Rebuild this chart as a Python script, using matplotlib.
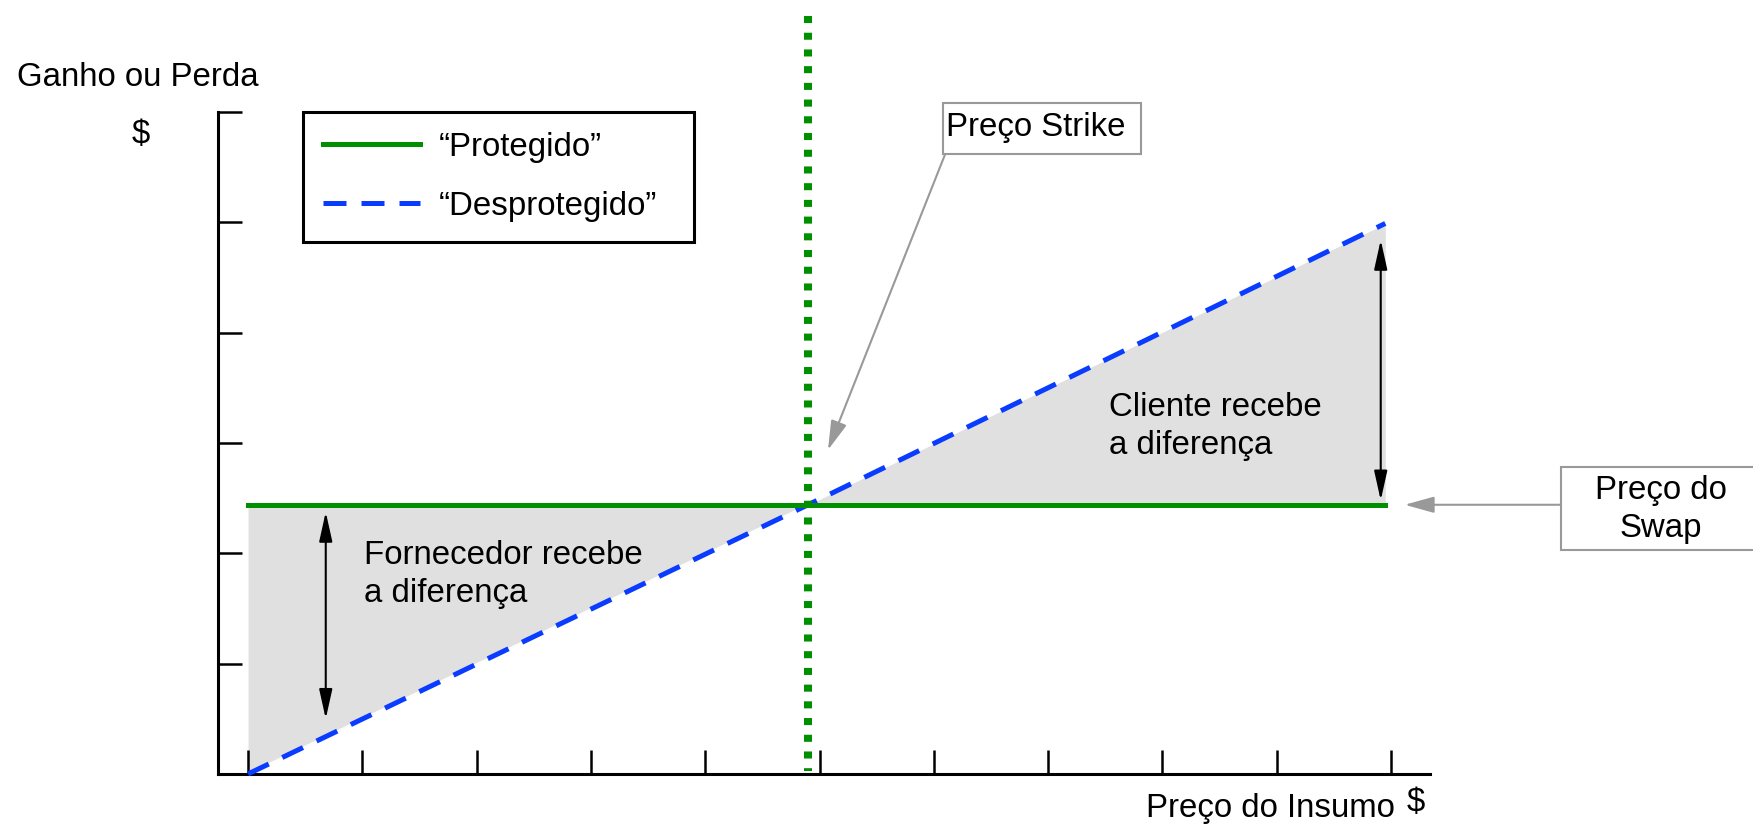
import matplotlib
matplotlib.use('Agg')
import matplotlib.pyplot as plt
from matplotlib.patches import Rectangle, ArrowStyle

plt.rcParams['font.family'] = ['Liberation Sans', 'DejaVu Sans']

# payoff data (input price vs gain/loss)
preco_insumo = [0.0, 4.9, 9.95]
protegido = [2.44, 2.44, 2.44]
desprotegido = [0.0, 2.44, 4.99]
preco_strike = 4.9
strike_topo = 6.87
x_ticks = [0, 1, 2, 3, 4, 5, 6, 7, 8, 9, 10]
y_ticks = [0, 1, 2, 3, 4, 5, 6]

verde = '#008f00'
azul = '#0a3cff'
cinza = '#999999'
fs = 23.8

fig = plt.figure(figsize=(17.53, 8.34), dpi=100)
ax = fig.add_axes([0, 0, 1, 1])
ax.set_xlim(-2.170, 13.167)
ax.set_ylim(-0.544, 7.015)
ax.patch.set_visible(False)

# axes as a bracket: left + bottom spine only
for s in ['top', 'right']:
    ax.spines[s].set_visible(False)
ax.spines['left'].set_position(('data', -0.262))
ax.spines['left'].set_bounds(0, 6)
ax.spines['bottom'].set_position(('data', 0))
ax.spines['bottom'].set_bounds(-0.262, 10.34)
for s in ['left', 'bottom']:
    ax.spines[s].set_linewidth(2.2)
ax.set_xticks(x_ticks)
ax.set_yticks(y_ticks)
ax.tick_params(direction='in', length=17.5, width=1.8, labelleft=False, labelbottom=False)

ax.fill_between(preco_insumo, protegido, desprotegido, color='#e0e0e0', lw=0, zorder=1)
ax.plot(preco_insumo, desprotegido, color='white', lw=1.2, zorder=2)
l_desp, = ax.plot(preco_insumo, desprotegido, color=azul, lw=3.6, ls=(0, (4.6, 3.0)),
                  label='“Desprotegido”', zorder=3)
l_prot, = ax.plot(preco_insumo, protegido, color=verde, lw=3.6, label='“Protegido”', zorder=4)
ax.plot([preco_strike, preco_strike], [strike_topo, 0.03], color=verde, lw=5.8,
        ls=(0, (0.875, 1.2)), zorder=5)

leg = ax.legend(handles=[l_prot, l_desp], loc='upper left',
                bbox_to_anchor=(0.1728, 0.8657 - 0.157, 0.2230, 0.157), mode='expand',
                borderaxespad=0, borderpad=0.6, handlelength=2.95, handletextpad=0.55,
                labelspacing=0.85, fontsize=fs, fancybox=False, framealpha=1,
                edgecolor='black')
leg.get_frame().set_linewidth(2.2)

# text labels
ax.text(-2.02, 6.31, 'Ganho ou Perda', fontsize=fs, va='center', ha='left')
ax.text(-1.015, 5.80, '$', fontsize=fs, va='center', ha='left')
ax.text(10.035, -0.31, 'Preço do Insumo', fontsize=fs, va='center', ha='right')
ax.text(10.14, -0.255, '$', fontsize=fs, va='center', ha='left')
ax.text(7.53, 3.15, 'Cliente recebe\na diferença', fontsize=fs, va='center', ha='left',
        linespacing=1.29)
ax.text(1.015, 1.81, 'Fornecedor recebe\na diferença', fontsize=fs, va='center', ha='left',
        linespacing=1.29)

# double-headed arrows
seta2 = ArrowStyle('<|-|>', head_length=1.8, head_width=0.4)
ax.annotate('', xy=(0.68, 2.375), xytext=(0.68, 0.5),
            arrowprops=dict(arrowstyle=seta2, color='black', lw=1.5, shrinkA=0, shrinkB=0))
ax.annotate('', xy=(9.91, 4.84), xytext=(9.91, 2.48),
            arrowprops=dict(arrowstyle=seta2, color='black', lw=1.5, shrinkA=0, shrinkB=0))

# callout boxes
seta1 = ArrowStyle('-|>', head_length=1.8, head_width=0.5)
ax.add_patch(Rectangle((6.08, 5.62), 1.73, 0.46, facecolor='white', edgecolor=cinza, lw=1.5,
                       zorder=6))
ax.text(6.107, 5.855, 'Preço Strike', fontsize=fs, va='center', ha='left', zorder=7)
ax.annotate('', xy=(5.074, 2.937), xytext=(6.10, 5.62),
            arrowprops=dict(arrowstyle=seta1, color=cinza, lw=1.5, shrinkA=0, shrinkB=0))

ax.add_patch(Rectangle((11.49, 2.03), 1.74, 0.75, facecolor='white', edgecolor=cinza, lw=1.5,
                       zorder=6, clip_on=False))
ax.text(12.36, 2.40, 'Preço do\nSwap', fontsize=fs, va='center', ha='center',
        linespacing=1.29, zorder=7)
ax.annotate('', xy=(10.12, 2.44), xytext=(11.49, 2.44),
            arrowprops=dict(arrowstyle=seta1, color=cinza, lw=1.5, shrinkA=0, shrinkB=0))

fig.savefig('out.png', dpi=100)
